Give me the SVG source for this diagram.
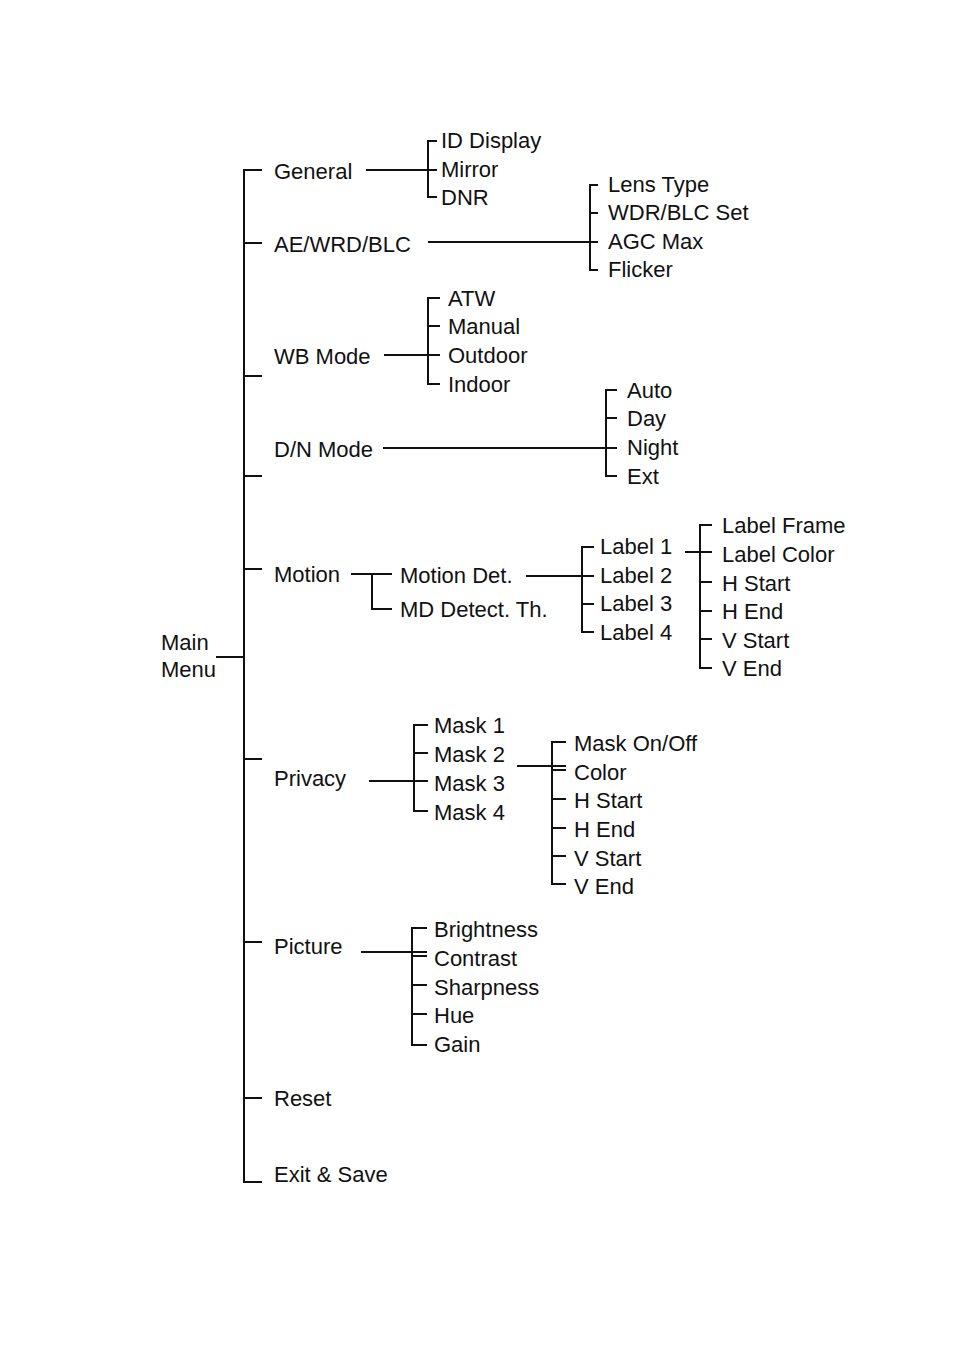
<svg xmlns="http://www.w3.org/2000/svg" width="954" height="1349" viewBox="0 0 954 1349">
<style>
text{font-family:"Liberation Sans",Arial,sans-serif;font-size:22px;fill:#111}
#connectors path{fill:none;stroke:#111;stroke-width:2}
</style>
<rect width="954" height="1349" fill="#fff"/>
<g id="connectors">
<path d="M216 657H244M262 170H244V1182H262M244 243H262M244 376H262M244 476H262M244 569H262M244 759H262M244 942H262M244 1098H262"/>
<path d="M366 170H428M437 141H428V197H437M428 170H437"/>
<path d="M428 242H598M598 185H590V270H598M590 213H598"/>
<path d="M384 355H440M440 298H428V384H440M428 326H440"/>
<path d="M383 448H617M617 390H606V476H617M606 418H617"/>
<path d="M351 574H392M372 574V609H392"/>
<path d="M526 576H594M594 547H582V632H594M582 604H594"/>
<path d="M685 552H712M712 525H700V668H712M700 582H712M700 611H712M700 639H712"/>
<path d="M369 781H428M428 725H414V811H428M414 753H428"/>
<path d="M517 766H566M566 742H552V884H566M552 770H566M552 799H566M552 828H566M552 856H566"/>
<path d="M361 952H427M427 928H412V1045H427M412 956H427M412 985H427M412 1014H427"/>
</g>
<g id="main"><text x="161" y="650">Main</text><text x="161" y="677">Menu</text></g>
<g id="general"><text x="274" y="179">General</text></g>
<g id="general-items"><text x="441" y="148">ID Display</text><text x="441" y="177">Mirror</text><text x="441" y="205">DNR</text></g>
<g id="ae"><text x="274" y="252">AE/WRD/BLC</text></g>
<g id="ae-items"><text x="608" y="192">Lens Type</text><text x="608" y="220">WDR/BLC Set</text><text x="608" y="249">AGC Max</text><text x="608" y="277">Flicker</text></g>
<g id="wb"><text x="274" y="364">WB Mode</text></g>
<g id="wb-items"><text x="448" y="306">ATW</text><text x="448" y="334">Manual</text><text x="448" y="363">Outdoor</text><text x="448" y="392">Indoor</text></g>
<g id="dn"><text x="274" y="457">D/N Mode</text></g>
<g id="dn-items"><text x="627" y="398">Auto</text><text x="627" y="426">Day</text><text x="627" y="455">Night</text><text x="627" y="484">Ext</text></g>
<g id="motion"><text x="274" y="582">Motion</text></g>
<g id="motion-items"><text x="400" y="583">Motion Det.</text><text x="400" y="617">MD Detect. Th.</text></g>
<g id="labels"><text x="600" y="554">Label 1</text><text x="600" y="583">Label 2</text><text x="600" y="611">Label 3</text><text x="600" y="640">Label 4</text></g>
<g id="label-items"><text x="722" y="533">Label Frame</text><text x="722" y="562">Label Color</text><text x="722" y="591">H Start</text><text x="722" y="619">H End</text><text x="722" y="648">V Start</text><text x="722" y="676">V End</text></g>
<g id="privacy"><text x="274" y="786">Privacy</text></g>
<g id="masks"><text x="434" y="733">Mask 1</text><text x="434" y="762">Mask 2</text><text x="434" y="791">Mask 3</text><text x="434" y="820">Mask 4</text></g>
<g id="mask-items"><text x="574" y="751">Mask On/Off</text><text x="574" y="780">Color</text><text x="574" y="808">H Start</text><text x="574" y="837">H End</text><text x="574" y="866">V Start</text><text x="574" y="894">V End</text></g>
<g id="picture"><text x="274" y="954">Picture</text></g>
<g id="picture-items"><text x="434" y="937">Brightness</text><text x="434" y="966">Contrast</text><text x="434" y="995">Sharpness</text><text x="434" y="1023">Hue</text><text x="434" y="1052">Gain</text></g>
<g id="reset"><text x="274" y="1106">Reset</text></g>
<g id="exit"><text x="274" y="1182">Exit &amp; Save</text></g>
</svg>
